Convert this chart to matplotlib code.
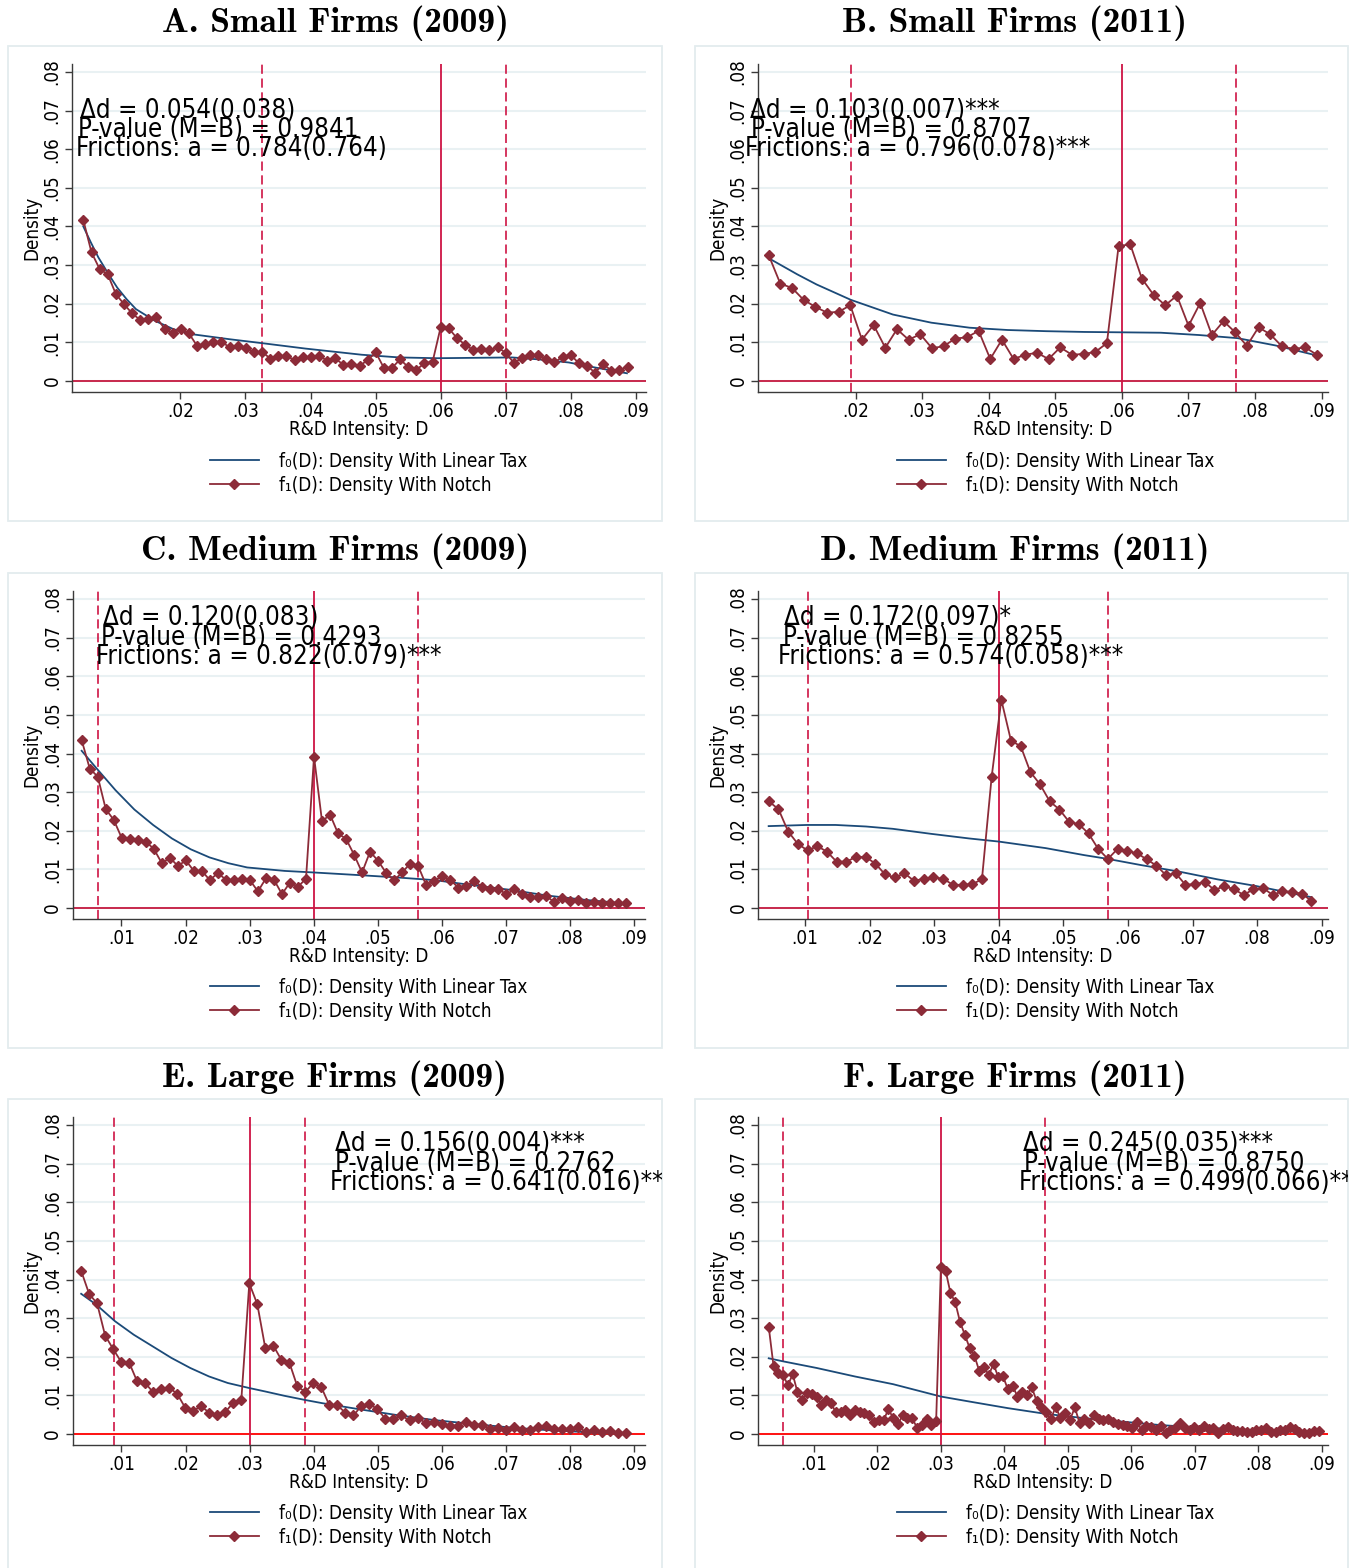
import os
import numpy as np
import matplotlib
matplotlib.use('Agg')
import matplotlib.pyplot as plt
from matplotlib import font_manager as fm
from matplotlib.lines import Line2D
from matplotlib.patches import Rectangle

# #
# Fonts: the original text looks like a narrow DejaVu Sans
# #
cond_name = None
for f in fm.fontManager.ttflist:
    if os.path.basename(f.fname) == 'DejaVuSansCondensed.ttf':
        cond_name = f.name
        break

if cond_name == 'DejaVu Sans':
    plt.rcParams['font.family'] = ['DejaVu Sans']
    plt.rcParams['font.stretch'] = 'condensed'
    SMALL, NOTE = 13.5, 18.5
elif cond_name:
    plt.rcParams['font.family'] = [cond_name, 'DejaVu Sans']
    SMALL, NOTE = 13.5, 18.5
else:
    plt.rcParams['font.family'] = ['DejaVu Sans']
    SMALL, NOTE = 12, 16

# #
# Data
# #

# A. Small firms 2009
a_x0, a_x1 = 0.0051, 0.0887
a_notch = [0.0416, 0.0333, 0.0290, 0.0276, 0.0225, 0.0199, 0.0175, 0.0158, 0.0160, 0.0165,
           0.0135, 0.0124, 0.0135, 0.0123, 0.0091, 0.0097, 0.0100, 0.0102, 0.0087, 0.0090,
           0.0086, 0.0074, 0.0076, 0.0058, 0.0065, 0.0064, 0.0055, 0.0061, 0.0061, 0.0065,
           0.0053, 0.0059, 0.0042, 0.0044, 0.0039, 0.0054, 0.0074, 0.0034, 0.0034, 0.0056,
           0.0036, 0.0029, 0.0046, 0.0050, 0.0140, 0.0136, 0.0111, 0.0094, 0.0080, 0.0083,
           0.0079, 0.0087, 0.0073, 0.0047, 0.0059, 0.0067, 0.0067, 0.0058, 0.0048, 0.0063,
           0.0068, 0.0046, 0.0039, 0.0022, 0.0044, 0.0027, 0.0028, 0.0037]
a_f0_x = [0.00509, 0.00624, 0.00740, 0.00884, 0.01029, 0.01173, 0.01318, 0.01607, 0.01896,
          0.02185, 0.02763, 0.03254, 0.03919, 0.04786, 0.05364, 0.05942, 0.06520, 0.07098,
          0.07503, 0.07965, 0.08370, 0.08861]
a_f0_y = [0.0400, 0.0359, 0.0320, 0.0280, 0.0242, 0.0212, 0.0186, 0.0156, 0.0134,
          0.0121, 0.0108, 0.0098, 0.0084, 0.0068, 0.0061, 0.0059, 0.0060, 0.0061,
          0.0056, 0.0048, 0.0035, 0.0020]
a_lines = [0.0325, 0.0600, 0.0700]
a_text = ['\u0394d = 0.054(0.038)', 'P-value (M=B) = 0.9841', 'Frictions: a = 0.784(0.764)']

# B. Small firms 2011
b_x0, b_x1 = 0.00695, 0.0893
b_notch = [0.0326, 0.0252, 0.0241, 0.0210, 0.0192, 0.0177, 0.0179, 0.0196, 0.0107, 0.0145,
           0.0086, 0.0134, 0.0107, 0.0121, 0.0085, 0.0090, 0.0110, 0.0113, 0.0130, 0.0057,
           0.0107, 0.0057, 0.0068, 0.0073, 0.0057, 0.0087, 0.0068, 0.0070, 0.0075, 0.0098,
           0.0349, 0.0354, 0.0265, 0.0223, 0.0196, 0.0221, 0.0143, 0.0202, 0.0119, 0.0155,
           0.0126, 0.0091, 0.0139, 0.0121, 0.0090, 0.0083, 0.0087, 0.0068]
b_f0_x = [0.00695, 0.01126, 0.01414, 0.01931, 0.02563, 0.03138, 0.03713, 0.04287, 0.04862,
          0.05437, 0.06011, 0.06586, 0.07161, 0.07736, 0.08310, 0.08931]
b_f0_y = [0.0318, 0.0276, 0.0250, 0.0210, 0.0172, 0.0151, 0.0138, 0.0132, 0.0129,
          0.0127, 0.0126, 0.0125, 0.0119, 0.0111, 0.0092, 0.0066]
b_lines = [0.0193, 0.0600, 0.0771]
b_text = ['\u0394d = 0.103(0.007)***', 'P-value (M=B) = 0.8707', 'Frictions: a = 0.796(0.078)***']

# C. Medium firms 2009
c_x0, c_x1 = 0.0038, 0.0888
c_notch = [0.0434, 0.0361, 0.0340, 0.0256, 0.0228, 0.0181, 0.0178, 0.0175, 0.0172, 0.0153,
           0.0116, 0.0130, 0.0109, 0.0123, 0.0096, 0.0096, 0.0072, 0.0091, 0.0073, 0.0073,
           0.0076, 0.0072, 0.0043, 0.0077, 0.0073, 0.0036, 0.0066, 0.0055, 0.0076, 0.0392,
           0.0224, 0.0242, 0.0193, 0.0179, 0.0138, 0.0092, 0.0146, 0.0122, 0.0091, 0.0072,
           0.0092, 0.0115, 0.0109, 0.0059, 0.0071, 0.0082, 0.0073, 0.0053, 0.0058, 0.0069,
           0.0055, 0.0048, 0.0050, 0.0035, 0.0048, 0.0035, 0.0028, 0.0028, 0.0031, 0.0015,
           0.0027, 0.0018, 0.0022, 0.0012, 0.0015, 0.0013, 0.0014, 0.0012, 0.0012]
c_f0_x = [0.00379, 0.00614, 0.00907, 0.01201, 0.01494, 0.01788, 0.02081, 0.02374, 0.02668,
          0.02961, 0.03548, 0.04000, 0.04722, 0.05309, 0.05896, 0.06482, 0.07069, 0.07656,
          0.08243, 0.08859]
c_f0_y = [0.0407, 0.0361, 0.0305, 0.0255, 0.0215, 0.0180, 0.0152, 0.0131, 0.0116,
          0.0105, 0.0096, 0.0092, 0.0085, 0.0079, 0.0072, 0.0059, 0.0047, 0.0032,
          0.0021, 0.0012]
c_lines = [0.0063, 0.0400, 0.0562]
c_text = ['\u0394d = 0.120(0.083)', 'P-value (M=B) = 0.4293', 'Frictions: a = 0.822(0.079)***']

# D. Medium firms 2011
d_x0, d_x1 = 0.0044, 0.0884
d_notch = [0.0276, 0.0256, 0.0198, 0.0166, 0.0149, 0.0160, 0.0146, 0.0120, 0.0120, 0.0132,
           0.0132, 0.0115, 0.0087, 0.0079, 0.0090, 0.0070, 0.0076, 0.0079, 0.0076, 0.0060,
           0.0060, 0.0062, 0.0074, 0.0339, 0.0539, 0.0433, 0.0419, 0.0352, 0.0320, 0.0276,
           0.0255, 0.0223, 0.0217, 0.0193, 0.0153, 0.0127, 0.0153, 0.0147, 0.0142, 0.0126,
           0.0110, 0.0085, 0.0090, 0.0060, 0.0062, 0.0067, 0.0047, 0.0056, 0.0049, 0.0034,
           0.0048, 0.0052, 0.0034, 0.0043, 0.0042, 0.0037, 0.0019]
d_f0_x = [0.00438, 0.01030, 0.01473, 0.01947, 0.02361, 0.02953, 0.03544, 0.04000, 0.04728,
          0.05320, 0.05692, 0.06207, 0.06799, 0.07391, 0.07982, 0.08840]
d_f0_y = [0.0212, 0.0215, 0.0215, 0.0211, 0.0205, 0.0192, 0.0180, 0.0172, 0.0155,
          0.0137, 0.0127, 0.0111, 0.0094, 0.0074, 0.0057, 0.0028]
d_lines = [0.0104, 0.0400, 0.0569]
d_text = ['\u0394d = 0.172(0.097)*', 'P-value (M=B) = 0.8255', 'Frictions: a = 0.574(0.058)***']

# E. Large firms 2009
e_x0, e_x1 = 0.0037, 0.0887
e_notch = [0.0423, 0.0363, 0.0338, 0.0255, 0.0220, 0.0187, 0.0185, 0.0136, 0.0132, 0.0108,
           0.0116, 0.0120, 0.0104, 0.0068, 0.0060, 0.0072, 0.0055, 0.0050, 0.0057, 0.0081,
           0.0087, 0.0390, 0.0336, 0.0222, 0.0229, 0.0192, 0.0185, 0.0123, 0.0109, 0.0132,
           0.0121, 0.0074, 0.0074, 0.0055, 0.0048, 0.0073, 0.0078, 0.0064, 0.0039, 0.0040,
           0.0048, 0.0035, 0.0042, 0.0029, 0.0030, 0.0025, 0.0022, 0.0022, 0.0032, 0.0023,
           0.0024, 0.0014, 0.0016, 0.0010, 0.0017, 0.0010, 0.0010, 0.0018, 0.0020, 0.0012,
           0.0014, 0.0012, 0.0019, 0.0005, 0.0010, 0.0005, 0.0008, 0.0003, 0.0003]
e_f0_x = [0.00371, 0.00606, 0.00899, 0.01192, 0.01486, 0.01779, 0.02073, 0.02366, 0.02660,
          0.02994, 0.03246, 0.03540, 0.03869, 0.04127, 0.04714, 0.05300, 0.05887, 0.06474,
          0.07061, 0.07648, 0.08235, 0.08869]
e_f0_y = [0.0363, 0.0335, 0.0292, 0.0257, 0.0227, 0.0197, 0.0171, 0.0149, 0.0132,
          0.0119, 0.0110, 0.0099, 0.0088, 0.0080, 0.0064, 0.0049, 0.0036, 0.0026,
          0.0017, 0.0010, 0.0005, 0.0003]
e_lines = [0.0088, 0.0300, 0.0387]
e_text = ['\u0394d = 0.156(0.004)***', 'P-value (M=B) = 0.2762', 'Frictions: a = 0.641(0.016)***']

# F. Large firms 2011
f_x0, f_x1 = 0.0029, 0.0895
f_notch = [0.0276, 0.0175, 0.0158, 0.0153, 0.0126, 0.0155, 0.0108, 0.0087, 0.0107, 0.0103,
           0.0097, 0.0075, 0.0088, 0.0081, 0.0056, 0.0056, 0.0061, 0.0049, 0.0061, 0.0056,
           0.0054, 0.0048, 0.0032, 0.0036, 0.0035, 0.0064, 0.0042, 0.0026, 0.0048, 0.0041,
           0.0041, 0.0016, 0.0023, 0.0038, 0.0024, 0.0033, 0.0433, 0.0422, 0.0365, 0.0341,
           0.0290, 0.0257, 0.0223, 0.0203, 0.0164, 0.0173, 0.0153, 0.0181, 0.0147, 0.0149,
           0.0116, 0.0125, 0.0097, 0.0108, 0.0100, 0.0121, 0.0086, 0.0069, 0.0056, 0.0038,
           0.0071, 0.0041, 0.0055, 0.0036, 0.0069, 0.0029, 0.0038, 0.0028, 0.0048, 0.0038,
           0.0036, 0.0039, 0.0032, 0.0026, 0.0023, 0.0021, 0.0015, 0.0032, 0.0010, 0.0021,
           0.0017, 0.0010, 0.0021, 0.0003, 0.0010, 0.0015, 0.0028, 0.0015, 0.0010, 0.0019,
           0.0010, 0.0021, 0.0012, 0.0015, 0.0003, 0.0012, 0.0017, 0.0010, 0.0009, 0.0009,
           0.0006, 0.0006, 0.0010, 0.0010, 0.0015, 0.0005, 0.0005, 0.0010, 0.0010, 0.0019,
           0.0013, 0.0006, 0.0003, 0.0003, 0.0009, 0.0009]
f_f0_x = [0.00289, 0.00518, 0.01042, 0.01645, 0.02247, 0.03000, 0.03452, 0.04054, 0.04657,
          0.05259, 0.05861, 0.06464, 0.07066, 0.07669, 0.08271, 0.08946]
f_f0_y = [0.0196, 0.0188, 0.0171, 0.0149, 0.0129, 0.0097, 0.0084, 0.0067, 0.0052,
          0.0041, 0.0032, 0.0023, 0.0017, 0.0012, 0.0008, 0.0005]
f_lines = [0.0052, 0.0300, 0.0464]
f_text = ['\u0394d = 0.245(0.035)***', 'P-value (M=B) = 0.8750', 'Frictions: a = 0.499(0.066)***']

titles = ['A. Small Firms (2009)', 'B. Small Firms (2011)',
          'C. Medium Firms (2009)', 'D. Medium Firms (2011)',
          'E. Large Firms (2009)', 'F. Large Firms (2011)']

y_ticks = [0, 0.01, 0.02, 0.03, 0.04, 0.05, 0.06, 0.07, 0.08]
y_labels = ['0', '.01', '.02', '.03', '.04', '.05', '.06', '.07', '.08']
x_ticks_all = [0.01, 0.02, 0.03, 0.04, 0.05, 0.06, 0.07, 0.08, 0.09]
x_labels_all = ['.01', '.02', '.03', '.04', '.05', '.06', '.07', '.08', '.09']

legend_labels = ['f\u2080(D): Density With Linear Tax', 'f\u2081(D): Density With Notch']

# #
# Style
# #
W, H = 1351, 1568
BLUE = '#1B4A78'
MAROON = '#8C2B38'
VLINE = '#CE1444'
ZERO_A = '#C8284C'
ZERO_E = '#FF1010'
GRID = '#E9F1F3'
BOX = '#E3ECEE'
AXC = '#3A3A3A'

panels = [
    dict(notch=a_notch, x0=a_x0, x1=a_x1, f0x=a_f0_x, f0y=a_f0_y, vl=a_lines, txt=a_text,
         col=0, row=0, l=72, r=646, xlim=(0.00335, 0.09154), tick0=1, zero=ZERO_A,
         tx=(0.0046, 0.0043, 0.0040), ty=(0.07, 0.065, 0.06)),
    dict(notch=b_notch, x0=b_x0, x1=b_x1, f0x=b_f0_x, f0y=b_f0_y, vl=b_lines, txt=b_text,
         col=1, row=0, l=758, r=1327.5, xlim=(0.00535, 0.0909), tick0=1, zero=ZERO_A,
         tx=(0.0042, 0.0043, 0.0034), ty=(0.07, 0.065, 0.06)),
    dict(notch=c_notch, x0=c_x0, x1=c_x1, f0x=c_f0_x, f0y=c_f0_y, vl=c_lines, txt=c_text,
         col=0, row=1, l=72.5, r=645, xlim=(0.00236, 0.0917), tick0=0, zero=ZERO_A,
         tx=(0.0071, 0.0068, 0.0060), ty=(0.075, 0.07, 0.065)),
    dict(notch=d_notch, x0=d_x0, x1=d_x1, f0x=d_f0_x, f0y=d_f0_y, vl=d_lines, txt=d_text,
         col=1, row=1, l=758, r=1327.5, xlim=(0.00273, 0.0909), tick0=0, zero=ZERO_A,
         tx=(0.0068, 0.0066, 0.0058), ty=(0.075, 0.07, 0.065)),
    dict(notch=e_notch, x0=e_x0, x1=e_x1, f0x=e_f0_x, f0y=e_f0_y, vl=e_lines, txt=e_text,
         col=0, row=2, l=72.5, r=645, xlim=(0.00236, 0.0917), tick0=0, zero=ZERO_E,
         tx=(0.0433, 0.0433, 0.0425), ty=(0.075, 0.07, 0.065)),
    dict(notch=f_notch, x0=f_x0, x1=f_x1, f0x=f_f0_x, f0y=f_f0_y, vl=f_lines, txt=f_text,
         col=1, row=2, l=758, r=1327.5, xlim=(0.0012, 0.0909), tick0=0, zero=ZERO_E,
         tx=(0.0429, 0.0431, 0.0423), ty=(0.075, 0.07, 0.065)),
]

row_off = [0, 527, 1053]
box_x = [(8, 662), (695, 1348)]
box_y = [(46, 521), (573, 1048), (1099, 1580)]
title_x = [335, 1015]
title_y = [23, 551, 1078]
legend_x = [210, 897]
legend_y = [452, 978, 1504]

YLIM = (-0.0028, 0.0822)
PX_PER_UNIT = 3862.5  # vertical pixels per density unit


def fig_rect(l, r, t, b):
    return [l / W, 1 - b / H, (r - l) / W, (b - t) / H]


fig = plt.figure(figsize=(W / 100, H / 100), dpi=100)
fig.patch.set_facecolor('white')

for i, p in enumerate(panels):
    col, row = p['col'], p['row']

    # grey panel frame
    bl, br = box_x[col]
    bt, bb = box_y[row]
    box = Rectangle((bl / W, 1 - bb / H), (br - bl) / W, (bb - bt) / H,
                    transform=fig.transFigure, facecolor='white', edgecolor=BOX,
                    lw=1.3, zorder=-5)
    fig.add_artist(box)

    # title (bold Computer Modern)
    fig.text(title_x[col] / W, 1 - title_y[row] / H, titles[i],
             ha='center', va='center', fontsize=25.5, fontfamily='cmb10')

    # axes
    zero_px = 381 + row_off[row]
    top_px = zero_px - YLIM[1] * PX_PER_UNIT
    bot_px = zero_px - YLIM[0] * PX_PER_UNIT
    ax = fig.add_axes(fig_rect(p['l'], p['r'], top_px, bot_px))
    ax.set_facecolor('none')
    ax.set_xlim(*p['xlim'])
    ax.set_ylim(*YLIM)

    for s in ('top', 'right'):
        ax.spines[s].set_visible(False)
    for s in ('left', 'bottom'):
        ax.spines[s].set_color(AXC)
        ax.spines[s].set_linewidth(1.0)

    ax.set_yticks(y_ticks)
    ax.set_yticklabels(y_labels, rotation=90, va='center')
    ax.set_xticks(x_ticks_all[p['tick0']:])
    ax.set_xticklabels(x_labels_all[p['tick0']:])
    ax.tick_params(direction='out', length=5, width=1, color=AXC,
                   labelsize=SMALL, pad=2.5)
    ax.yaxis.grid(True, color=GRID, lw=1.5)
    ax.set_axisbelow(True)

    ax.set_ylabel('Density', fontsize=SMALL, labelpad=1)
    ax.set_xlabel('R&D Intensity: D', fontsize=SMALL, labelpad=-1)

    # reference lines
    ax.axhline(0, color=p['zero'], lw=1.4, zorder=1.5)
    for v, ls in zip(p['vl'], ['--', '-', '--']):
        if ls == '--':
            ax.axvline(v, color=VLINE, lw=1.2, dashes=(5.5, 2.8), zorder=1.6)
        else:
            ax.axvline(v, color=VLINE, lw=1.3, zorder=1.6)

    # densities
    xs = np.linspace(p['x0'], p['x1'], len(p['notch']))
    ax.plot(p['f0x'], p['f0y'], color=BLUE, lw=1.3, zorder=3)
    ax.plot(xs, p['notch'], color=MAROON, lw=1.3, marker='D', ms=4.8,
            mec=MAROON, mfc=MAROON, zorder=4)

    # estimates
    for s, tx, ty in zip(p['txt'], p['tx'], p['ty']):
        t = ax.text(tx, ty, s, fontsize=NOTE, ha='left', va='center', zorder=6)
        t.set_clip_on(True)
        t.set_clip_path(box)

    # legend
    handles = [Line2D([], [], color=BLUE, lw=1.3),
               Line2D([], [], color=MAROON, lw=1.3, marker='D', ms=4.8)]
    fig.legend(handles, legend_labels, loc='upper left',
               bbox_to_anchor=(legend_x[col] / W, 1 - legend_y[row] / H),
               frameon=False, fontsize=SMALL, handlelength=2.6,
               handletextpad=1.1, labelspacing=0.25, borderpad=0,
               borderaxespad=0)

fig.savefig('out.png', dpi=100, facecolor='white')
